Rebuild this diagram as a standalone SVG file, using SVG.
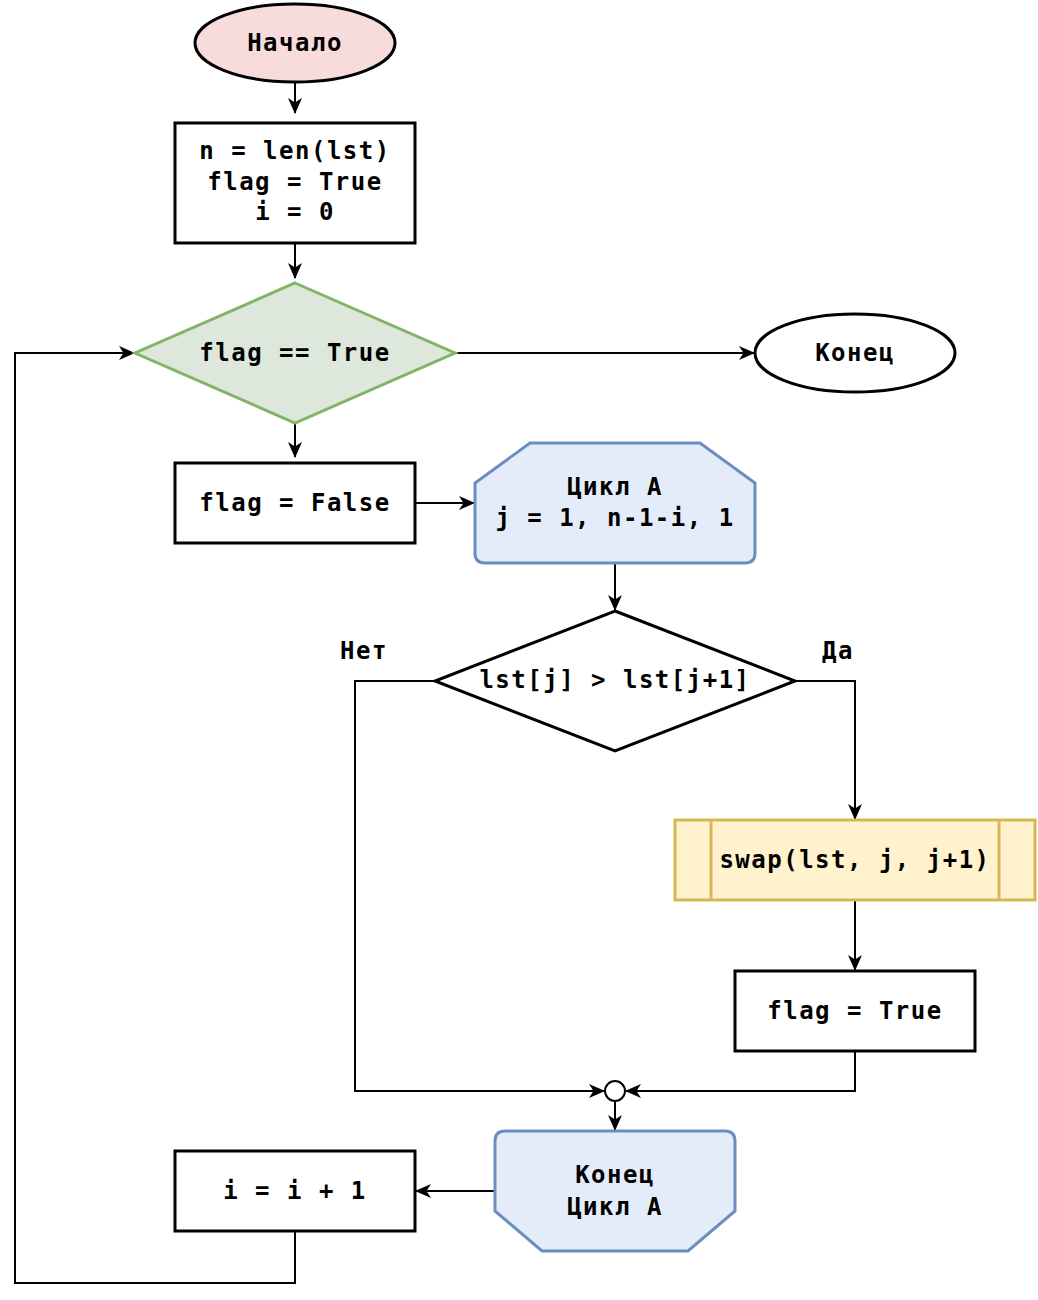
<svg xmlns="http://www.w3.org/2000/svg" width="1038" height="1300" viewBox="0 0 1038 1300">
<style>
text{font-family:"DejaVu Sans Mono","Liberation Mono",monospace;font-weight:bold;font-size:24px;letter-spacing:1.5px;text-anchor:middle;dominant-baseline:central;fill:#000}
.k{stroke:#000;stroke-width:3;fill:#fff}
.e{stroke:#000;stroke-width:2;fill:none}
</style>
<defs>
<marker id="a" viewBox="0 0 16 16" refX="15" refY="8" markerWidth="16" markerHeight="16" markerUnits="userSpaceOnUse" orient="auto">
<path d="M0,1 L16,8 L0,15 L4.5,8 Z" fill="#000"/>
</marker>
</defs>
<g id="connectors">
<path class="e" d="M295,82 V113" marker-end="url(#a)"/>
<path class="e" d="M295,243 V278" marker-end="url(#a)"/>
<path class="e" d="M455,353 H754" marker-end="url(#a)"/>
<path class="e" d="M295,423 V457" marker-end="url(#a)"/>
<path class="e" d="M415,503 H474" marker-end="url(#a)"/>
<path class="e" d="M615,563 V610" marker-end="url(#a)"/>
<path class="e" d="M435,681 H355 V1091 H604" marker-end="url(#a)"/>
<path class="e" d="M795,681 H855 V819" marker-end="url(#a)"/>
<path class="e" d="M855,900 V970" marker-end="url(#a)"/>
<path class="e" d="M855,1051 V1091 H626" marker-end="url(#a)"/>
<path class="e" d="M615,1101 V1130" marker-end="url(#a)"/>
<path class="e" d="M495,1191 H416" marker-end="url(#a)"/>
<path class="e" d="M295,1231 V1283 H15 V353 H134" marker-end="url(#a)"/>
</g>
<g id="start">
<ellipse cx="295" cy="43" rx="100" ry="39" fill="#f8dcdc" stroke="#000" stroke-width="3"/>
<text x="295" y="43">Начало</text>
</g>
<g id="init">
<rect class="k" x="175" y="123" width="240" height="120"/>
<text x="295" y="151">n = len(lst)</text>
<text x="295" y="182">flag = True</text>
<text x="295" y="212">i = 0</text>
</g>
<g id="cond1">
<path d="M295,283 L455,353 L295,423 L135,353 Z" fill="#dee7dc" stroke="#82b366" stroke-width="3"/>
<text x="295" y="353">flag == True</text>
</g>
<g id="end">
<ellipse class="k" cx="855" cy="353" rx="100" ry="39"/>
<text x="855" y="353">Конец</text>
</g>
<g id="setfalse">
<rect class="k" x="175" y="463" width="240" height="80"/>
<text x="295" y="503">flag = False</text>
</g>
<g id="loopstart">
<path d="M530,443 H700 L755,483 V553 Q755,563 745,563 H485 Q475,563 475,553 V483 Z" fill="#e4ecfa" stroke="#6c8ebf" stroke-width="3"/>
<text x="615" y="487">Цикл А</text>
<text x="615" y="518">j = 1, n-1-i, 1</text>
</g>
<g id="cond2">
<path d="M615,611 L795,681 L615,751 L435,681 Z" fill="#fff" stroke="#000" stroke-width="3"/>
<text x="615" y="680">lst[j] &gt; lst[j+1]</text>
</g>
<g id="labels">
<text x="364" y="651">Нет</text>
<text x="838" y="651">Да</text>
</g>
<g id="swap">
<rect x="675" y="820" width="360" height="80" fill="#fff2cc" stroke="#d6b656" stroke-width="3"/>
<path d="M711,820 V900 M999,820 V900" stroke="#d6b656" stroke-width="3"/>
<text x="855" y="860">swap(lst, j, j+1)</text>
</g>
<g id="settrue">
<rect class="k" x="735" y="971" width="240" height="80"/>
<text x="855" y="1011">flag = True</text>
</g>
<g id="join">
<circle cx="615" cy="1091" r="10" fill="#fff" stroke="#000" stroke-width="2"/>
</g>
<g id="loopend">
<path d="M505,1131 H725 Q735,1131 735,1141 V1211 L688,1251 H542 L495,1211 V1141 Q495,1131 505,1131 Z" fill="#e4ecfa" stroke="#6c8ebf" stroke-width="3"/>
<text x="615" y="1175">Конец</text>
<text x="615" y="1207">Цикл А</text>
</g>
<g id="incr">
<rect class="k" x="175" y="1151" width="240" height="80"/>
<text x="295" y="1191">i = i + 1</text>
</g>
</svg>
